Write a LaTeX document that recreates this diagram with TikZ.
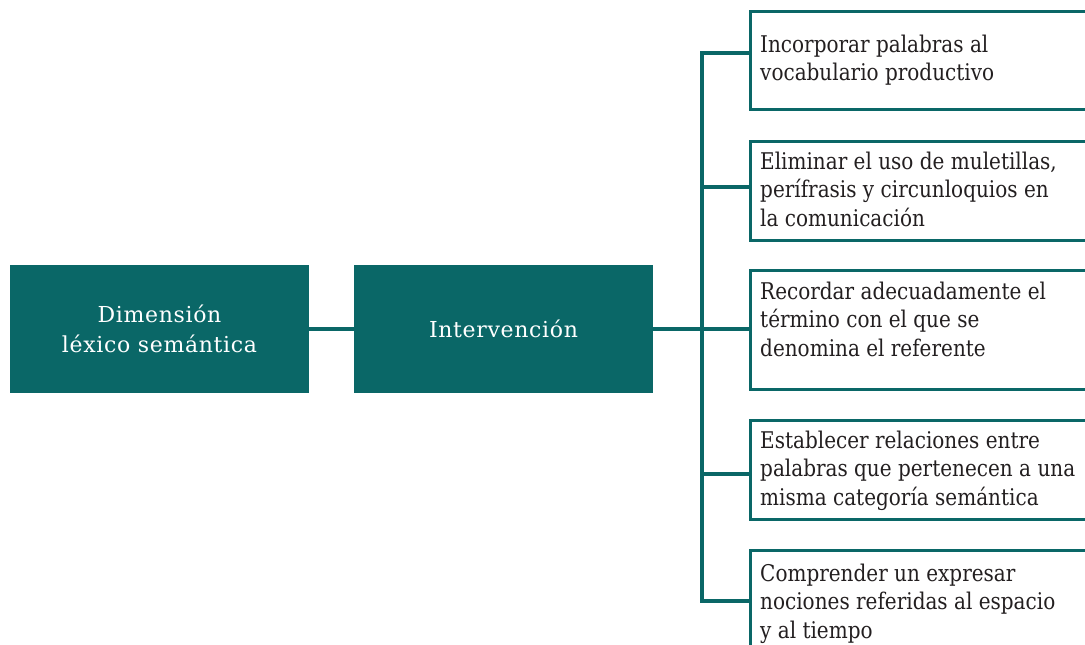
\documentclass[tikz,border=0pt]{standalone}
\usepackage{fontspec}
\setmainfont{DejaVu Serif}[FakeStretch=0.87]
\newfontfamily\whitefont{DejaVu Serif}[FakeStretch=1.0,LetterSpace=3]
\definecolor{teal1}{RGB}{10,103,103}
\definecolor{ink}{RGB}{35,31,32}
\begin{document}
\begin{tikzpicture}[x=1pt,y=-1pt,
  darkbox/.style={draw=none,fill=teal1,text=white,minimum width=299pt,minimum height=128pt,inner sep=0pt,align=center,font=\whitefont\fontsize{22}{30}\selectfont},
  outbox/.style={draw=teal1,line width=3pt,fill=white,inner sep=0pt,anchor=north west},
  boxtext/.style={anchor=north west,inner sep=0pt,align=left,text=ink,font=\fontsize{23}{28.5}\selectfont},
  conn/.style={draw=teal1,line width=4pt}]
\clip (0,0) rectangle (1085,645);
\fill[white] (0,0) rectangle (1085,645);
% left boxes
\node[darkbox] (dim) at (159.5,329) {Dimensión\\léxico semántica};
\node[darkbox] (int) at (503.5,329) {Intervención};
% right boxes
\node[outbox,minimum width=360pt,minimum height=98pt] (A) at (749,10) {};
\node[outbox,minimum width=360pt,minimum height=99pt] (B) at (749,140) {};
\node[outbox,minimum width=360pt,minimum height=119pt] (C) at (749,269) {};
\node[outbox,minimum width=360pt,minimum height=99pt] (D) at (749,419) {};
\node[outbox,minimum width=360pt,minimum height=150pt] (E) at (749,549) {};
\node[boxtext] (tA) at (760,34.5) {Incorporar palabras al\\vocabulario productivo};
\node[boxtext] (tB) at (760,151.5) {Eliminar el uso de muletillas,\\perífrasis y circunloquios en\\la comunicación};
\node[boxtext] (tC) at (760,281.5) {Recordar adecuadamente el\\término con el que se\\denomina el referente};
\node[boxtext] (tD) at (760,430.5) {Establecer relaciones entre\\palabras que pertenecen a una\\misma categoría semántica};
\node[boxtext] (tE) at (760,563.5) {Comprender un expresar\\nociones referidas al espacio\\y al tiempo};
% connectors
\coordinate (jA) at (702,53);
\coordinate (jB) at (702,187);
\coordinate (jC) at (702,329);
\coordinate (jD) at (702,474);
\coordinate (jE) at (702,601);
\draw[conn] (dim.east) -- (int.west);
\draw[conn] (int.east) -- (jC);
\draw[conn] (A.west |- jA) -- (jA) -- (jE) -- (E.west |- jE);
\draw[conn] (jB) -- (B.west |- jB);
\draw[conn] (jC) -- (C.west |- jC);
\draw[conn] (jD) -- (D.west |- jD);
\end{tikzpicture}
\end{document}
